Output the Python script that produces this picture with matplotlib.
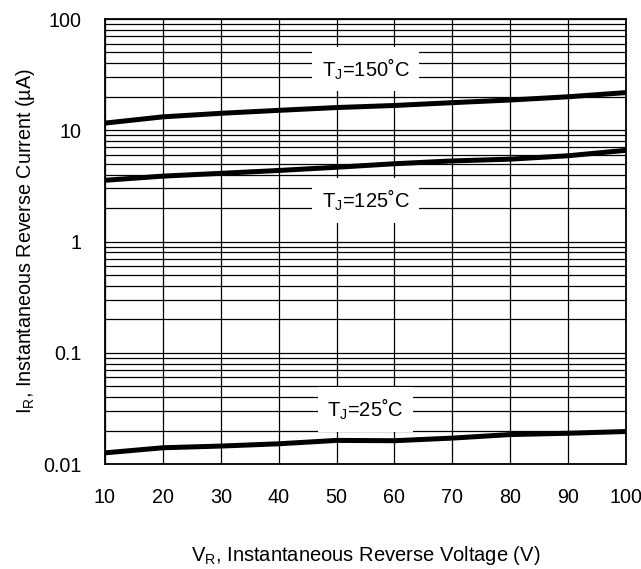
import numpy as np
import matplotlib.pyplot as plt
from matplotlib.ticker import FixedLocator, LogLocator, NullFormatter

plt.rcParams['font.family'] = ['Liberation Sans', 'DejaVu Sans']
plt.rcParams['mathtext.fontset'] = 'custom'
plt.rcParams['mathtext.rm'] = 'Liberation Sans'
plt.rcParams['mathtext.it'] = 'Liberation Sans'

### data
vr = [10, 20, 30, 40, 50, 60, 70, 80, 90, 100]
ir_150 = [11.6, 13.2, 14.2, 15.1, 16.0, 16.7, 17.7, 18.7, 20.0, 21.8]
ir_125 = [3.55, 3.87, 4.1, 4.35, 4.65, 5.0, 5.3, 5.5, 5.9, 6.6]
ir_25 = [0.0126, 0.0140, 0.0145, 0.0152, 0.0163, 0.0162, 0.0171, 0.0184, 0.0189, 0.0196]

labels = ['T$_\\mathregular{J}$=150˚C', 'T$_\\mathregular{J}$=125˚C', 'T$_\\mathregular{J}$=25˚C']
label_pos = [(55, 35.5), (55, 2.34), (55, 0.031)]

yticks = [0.01, 0.1, 1, 10, 100]
yticklabels = ['0.01', '0.1', '1', '10', '100']

fig = plt.figure(figsize=(6.41, 5.69), dpi=100)
ax = fig.add_axes([0.1638, 0.1845, 0.8128, 0.7821])

ax.set_yscale('log')
ax.set_xlim(10, 100)
ax.set_ylim(0.01, 100)

ax.xaxis.set_major_locator(FixedLocator(vr))
ax.set_yticks(yticks)
ax.set_yticklabels(yticklabels)
ax.yaxis.set_minor_locator(LogLocator(base=10, subs=np.arange(2, 10)))
ax.yaxis.set_minor_formatter(NullFormatter())

ax.grid(True, which='major', axis='both', color='black', linewidth=0.9)
ax.grid(True, which='minor', axis='y', color='black', linewidth=0.9)
ax.tick_params(which='both', length=0, labelsize=14.2)
ax.tick_params(axis='y', pad=17)
ax.tick_params(axis='x', pad=17)
for s in ax.spines.values():
    s.set_linewidth(1.3)
    s.set_zorder(5)

for txt, (x, y) in zip(labels, label_pos):
    ax.text(x, y, txt, fontsize=14.5, ha='center', va='center', zorder=3,
            bbox=dict(facecolor='white', edgecolor='none', pad=7))

for ir in [ir_150, ir_125, ir_25]:
    ax.plot(vr, ir, color='black', linewidth=3.6, zorder=4, solid_capstyle='butt')

ax.set_xlabel('V$_\\mathregular{R}$, Instantaneous Reverse Voltage (V)', fontsize=14.5, labelpad=27)
ax.set_ylabel('I$_\\mathregular{R}$, Instantaneous Reverse Current (µA)', fontsize=14.2, labelpad=4)

fig.savefig('out.png', dpi=100)
